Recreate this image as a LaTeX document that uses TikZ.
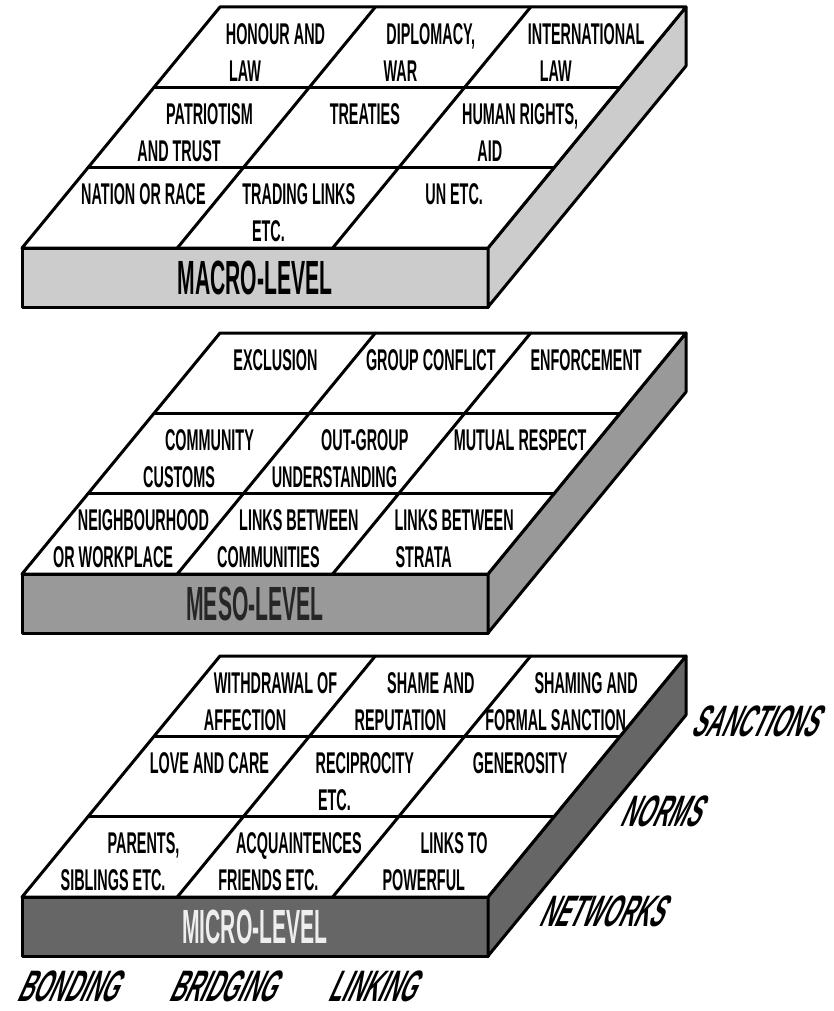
\documentclass[tikz,border=0pt]{standalone}
\usepackage{fontspec}
\newfontfamily\cellfont[FakeStretch=0.48]{Liberation Sans}
\newfontfamily\lvlfont[FakeStretch=0.44]{Liberation Sans}
\newfontfamily\dimfont[FakeStretch=0.48,FakeSlant=0.45]{Liberation Sans}
\definecolor{macrofill}{HTML}{CCCCCC}
\definecolor{mesofill}{HTML}{999999}
\definecolor{microfill}{HTML}{666666}
\definecolor{microtext}{HTML}{EEEEEE}
\definecolor{mesotext}{HTML}{262626}
\tikzset{
  edge/.style={line width=3pt, line join=round, line cap=round},
  celltext/.style={font=\cellfont\bfseries\fontsize{30}{30}\selectfont, inner sep=0pt, text height=20.6pt, text depth=0pt, anchor=center},
  lvltext/.style={font=\lvlfont\bfseries\fontsize{48}{48}\selectfont, inner sep=0pt, anchor=center},
  dimtext/.style={font=\dimfont\bfseries\fontsize{44}{44}\selectfont, inner sep=0pt, anchor=center},
}
% slab: #1 = back top y, #2 = fill colour
\newcommand\myslab[2]{%
  \filldraw[edge, fill=#2] (22,#1+241) rectangle (488,#1+300);
  \filldraw[edge, fill=#2] (488,#1+241) -- (686,#1) -- (686,#1+59) -- (488,#1+300) -- cycle;
  \filldraw[edge, fill=white] (220,#1) -- (686,#1) -- (488,#1+241) -- (22,#1+241) -- cycle;
  \draw[edge] (220-80.33*0.8216,#1+80.33) -- (686-80.33*0.8216,#1+80.33);
  \draw[edge] (220-160.67*0.8216,#1+160.67) -- (686-160.67*0.8216,#1+160.67);
  \draw[edge] (375.33,#1) -- (177.33,#1+241);
  \draw[edge] (530.67,#1) -- (332.67,#1+241);
}
% one line of cell text: #1 name, #2 B, #3 col, #4 y of cap middle, #5 text
\newcommand\mycellline[5]{%
  \pgfmathsetmacro\mycx{220+#3*155.33+77.67-(#4-#2)*0.8216}%
  \node[celltext] (#1) at (\mycx,#4) {#5};
}
\newcommand\mycellone[5]{% name B col row text
  \pgfmathsetmacro\mycy{#2+#4*80.33+27}%
  \mycellline{#1}{#2}{#3}{\mycy}{#5}}
\newcommand\mycelltwo[6]{% name B col row text1 text2
  \pgfmathsetmacro\mycya{#2+#4*80.33+27}%
  \pgfmathsetmacro\mycyb{#2+#4*80.33+64}%
  \mycellline{#1a}{#2}{#3}{\mycya}{#5}%
  \mycellline{#1b}{#2}{#3}{\mycyb}{#6}}
\begin{document}
\begin{tikzpicture}[x=1pt, y=-1pt]
\useasboundingbox (0,0) rectangle (834,1011);
% ---------- MACRO ----------
\myslab{7}{macrofill}
\mycelltwo{ma00}{7}{0}{0}{HONOUR AND}{LAW}
\mycelltwo{ma10}{7}{1}{0}{DIPLOMACY,}{WAR}
\mycelltwo{ma20}{7}{2}{0}{INTERNATIONAL}{LAW}
\mycelltwo{ma01}{7}{0}{1}{PATRIOTISM}{AND TRUST}
\mycellone{ma11}{7}{1}{1}{TREATIES}
\mycelltwo{ma21}{7}{2}{1}{HUMAN RIGHTS,}{AID}
\mycellone{ma02}{7}{0}{2}{NATION OR RACE}
\mycelltwo{ma12}{7}{1}{2}{TRADING LINKS}{ETC.}
\mycellone{ma22}{7}{2}{2}{UN ETC.}
\node[lvltext] (macrolbl) at (255,7+270.5) {MACRO-LEVEL};
% ---------- MESO ----------
\myslab{333}{mesofill}
\mycellone{me00}{333}{0}{0}{EXCLUSION}
\mycellone{me10}{333}{1}{0}{GROUP CONFLICT}
\mycellone{me20}{333}{2}{0}{ENFORCEMENT}
\mycelltwo{me01}{333}{0}{1}{COMMUNITY}{CUSTOMS}
\mycelltwo{me11}{333}{1}{1}{OUT-GROUP}{UNDERSTANDING}
\mycellone{me21}{333}{2}{1}{MUTUAL RESPECT}
\mycelltwo{me02}{333}{0}{2}{NEIGHBOURHOOD}{OR WORKPLACE}
\mycelltwo{me12}{333}{1}{2}{LINKS BETWEEN}{COMMUNITIES}
\mycelltwo{me22}{333}{2}{2}{LINKS BETWEEN}{STRATA}
\node[lvltext, text=mesotext] (mesolbl) at (255,333+270.5) {MESO-LEVEL};
% ---------- MICRO ----------
\myslab{656}{microfill}
\mycelltwo{mi00}{656}{0}{0}{WITHDRAWAL OF}{AFFECTION}
\mycelltwo{mi10}{656}{1}{0}{SHAME AND}{REPUTATION}
\mycelltwo{mi20}{656}{2}{0}{SHAMING AND}{FORMAL SANCTION}
\mycellone{mi01}{656}{0}{1}{LOVE AND CARE}
\mycelltwo{mi11}{656}{1}{1}{RECIPROCITY}{ETC.}
\mycellone{mi21}{656}{2}{1}{GENEROSITY}
\mycelltwo{mi02}{656}{0}{2}{PARENTS,}{SIBLINGS ETC.}
\mycelltwo{mi12}{656}{1}{2}{ACQUAINTENCES}{FRIENDS ETC.}
\mycelltwo{mi22}{656}{2}{2}{LINKS TO}{POWERFUL}
\node[lvltext, text=microtext] (microlbl) at (255,656+270.5) {MICRO-LEVEL};
% ---------- dimension labels ----------
\node[dimtext] (sanctions) at (753,721) {SANCTIONS};
\node[dimtext] (norms) at (659,811) {NORMS};
\node[dimtext] (networks) at (600,911) {NETWORKS};
\node[dimtext] (bonding) at (66,986) {BONDING};
\node[dimtext] (bridging) at (221,986) {BRIDGING};
\node[dimtext] (linking) at (371,986) {LINKING};
\end{tikzpicture}
\end{document}
